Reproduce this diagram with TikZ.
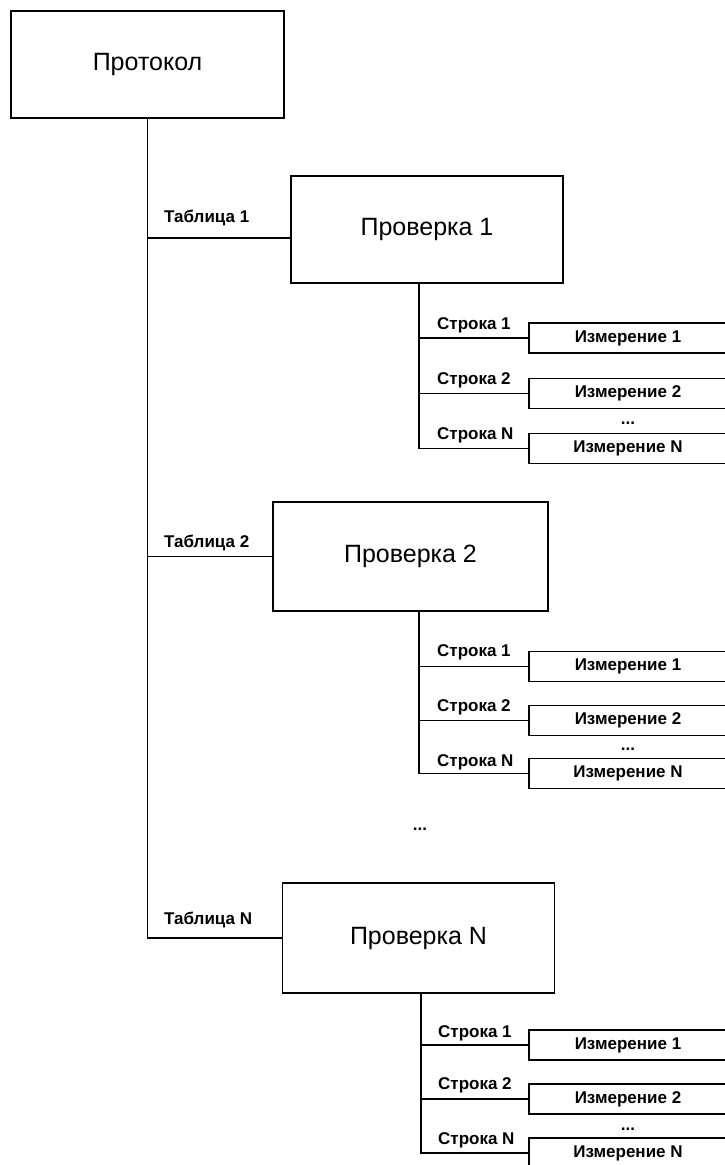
\documentclass[tikz,border=0pt]{standalone}
\usepackage{fontspec}
\setmainfont{Liberation Sans}
\usetikzlibrary{calc}

\tikzset{
  mainbox/.style={draw, line width=1.6pt, inner sep=0pt, font=\fontsize{25}{30}\selectfont},
  measbox/.style={draw, line width=1.6pt, inner sep=0pt, minimum width=198pt, minimum height=30pt, font=\fontsize{17}{20}\selectfont\bfseries},
  lbl/.style={anchor=west, inner sep=0pt, font=\fontsize{17}{20}\selectfont\bfseries},
  dots/.style={anchor=base, inner sep=0pt, font=\fontsize{17}{20}\selectfont\bfseries},
  wire/.style={line width=1.6pt},
}

\begin{document}
\begin{tikzpicture}[x=1pt, y=-1pt]
\fill[white] (0,0) rectangle (725,1165);
\useasboundingbox (0,0) rectangle (725,1165);
\clip (0,0) rectangle (725,1165);

\node[mainbox, minimum width=273pt, minimum height=107pt] (proto) at (147.5, 64.5){Протокол};

\node[mainbox, minimum width=272pt, minimum height=107pt] (check1) at (427, 229.5){Проверка 1};
\node[mainbox, minimum width=275pt, minimum height=109pt] (check2) at (410.5, 556.5){Проверка 2};
\node[mainbox, minimum width=272pt, minimum height=110pt] (checkN) at (418.5, 938){Проверка N};

\node[lbl] (tab1) at (164, 218){Таблица 1};
\node[lbl] (tab2) at (164, 543){Таблица 2};
\node[lbl] (tabN) at (164, 920){Таблица N};

\node[measbox] (m11) at (628, 338){Измерение 1};
\node[measbox] (m12) at (628, 393.5){Измерение 2};
\node[measbox] (m1n) at (628, 448.5){Измерение N};
\node[lbl] (r11) at (437, 325){Строка 1};
\node[lbl] (r12) at (437, 380){Строка 2};
\node[lbl] (r1n) at (437, 435){Строка N};
\node[dots] (d1) at (628, 424){...};

\node[measbox] (m21) at (628, 666.5){Измерение 1};
\node[measbox] (m22) at (628, 720.5){Измерение 2};
\node[measbox] (m2n) at (628, 773.5){Измерение N};
\node[lbl] (r21) at (437, 652){Строка 1};
\node[lbl] (r22) at (437, 707){Строка 2};
\node[lbl] (r2n) at (437, 762){Строка N};
\node[dots] (d2) at (628, 750){...};

\node[measbox] (mN1) at (628, 1045){Измерение 1};
\node[measbox] (mN2) at (628, 1099){Измерение 2};
\node[measbox] (mNn) at (628, 1153){Измерение N};
\node[lbl] (rN1) at (438, 1033){Строка 1};
\node[lbl] (rN2) at (438, 1085){Строка 2};
\node[lbl] (rNn) at (438, 1140){Строка N};
\node[dots] (dN) at (628, 1130){...};

\node[dots] (dmain) at (420, 830){...};

\coordinate (t1) at ([yshift=-8.5pt]check1.west);
\draw[wire] (proto.south) |- (checkN.west);
\draw[wire] (proto.south |- t1) -- (t1);
\draw[wire] (proto.south |- check2.west) -- (check2.west);

\coordinate (s1) at ([xshift=-8pt]check1.south);
\draw[wire] (s1) |- (m1n.west);
\draw[wire] (s1 |- m11.west) -- (m11.west);
\draw[wire] (s1 |- m12.west) -- (m12.west);

\coordinate (s2) at ([xshift=8.5pt]check2.south);
\draw[wire] (s2) |- (m2n.west);
\draw[wire] (s2 |- m21.west) -- (m21.west);
\draw[wire] (s2 |- m22.west) -- (m22.west);

\coordinate (sN) at ([xshift=2.5pt]checkN.south);
\draw[wire] (sN) |- (mNn.west);
\draw[wire] (sN |- mN1.west) -- (mN1.west);
\draw[wire] (sN |- mN2.west) -- (mN2.west);
\end{tikzpicture}
\end{document}
